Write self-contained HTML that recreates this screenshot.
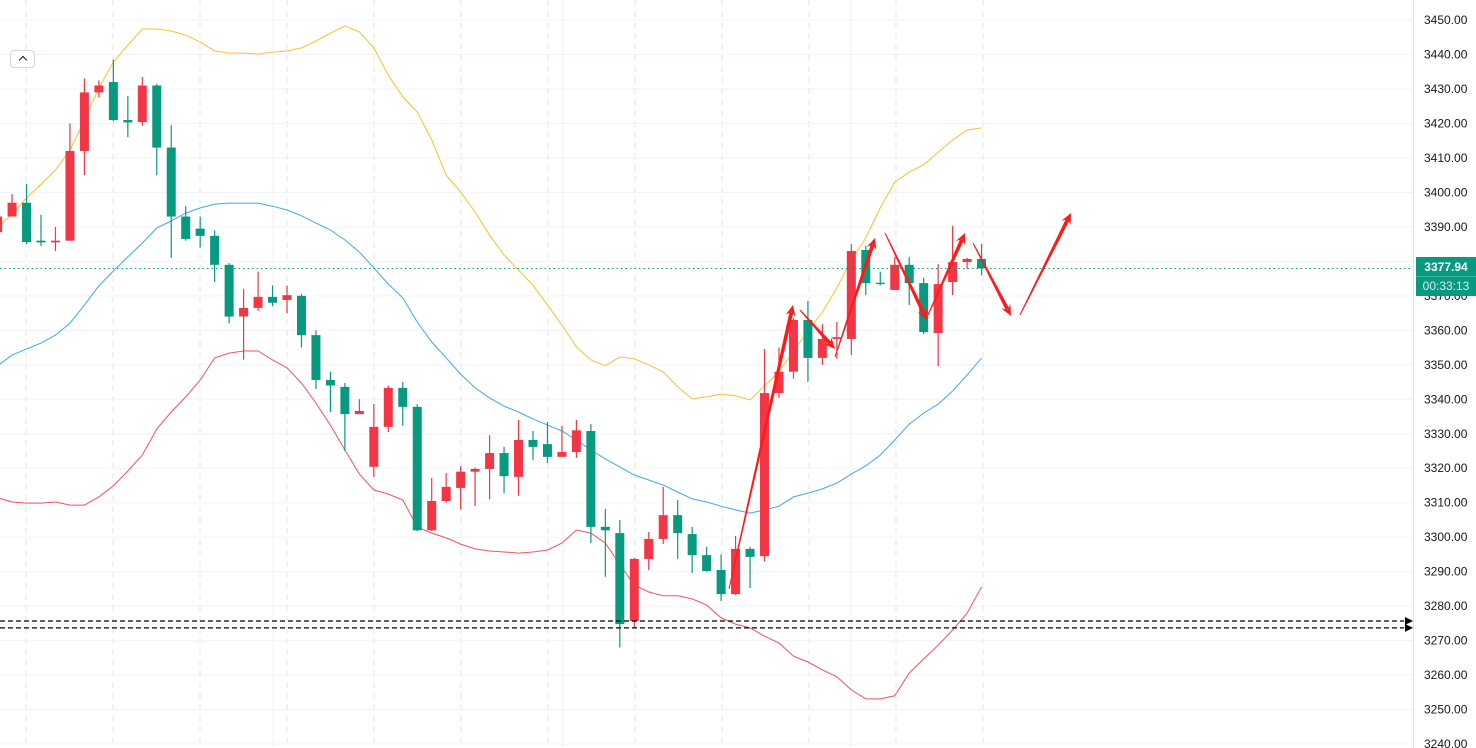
<!DOCTYPE html>
<html><head><meta charset="utf-8">
<style>
html,body{margin:0;padding:0;background:#fff;}
body{width:1476px;height:748px;overflow:hidden;position:relative;font-family:"Liberation Sans",sans-serif;}
svg{position:absolute;left:0;top:0;}
.btn{position:absolute;left:10px;top:50px;width:25px;height:18px;border:1px solid #d1d4dc;border-radius:4px;background:#fff;box-sizing:border-box;}
.btn:after{content:"";position:absolute;left:9px;top:6px;width:5px;height:5px;border-left:1.6px solid #131722;border-top:1.6px solid #131722;transform:rotate(45deg);}
.plabel{position:absolute;left:1416px;top:257px;width:60px;height:39px;background:#089981;color:#fff;font-size:12px;text-align:center;}
.plabel .p{height:19px;line-height:20px;font-weight:bold;border-bottom:1px solid #3bb39c;}
.plabel .t{height:19px;line-height:19px;color:#d6f0ea;}
</style></head><body>
<svg id="chart" width="1476" height="748"></svg>
<div class="btn"></div>
<div class="plabel"><div class="p">3377.94</div><div class="t">00:33:13</div></div>
<script>
const opens=[3388.5,3393,3397,3386,3385.5,3386,3412,3429,3432,3421,3420.4,3431,3413,3393,3389.5,3387.4,3379,3364,3366.5,3369.7,3368.8,3370,3358.6,3345.6,3343.6,3335.7,3320.4,3332,3343.3,3337.8,3302,3310.5,3314.3,3319,3319.8,3324.4,3317.5,3328.2,3327,3323.3,3324.7,3330.8,3303,3301.2,3275.7,3293.7,3299.5,3306.4,3300.9,3294.8,3290.5,3283.5,3296.6,3294.5,3341.8,3348,3363,3352,3357.5,3357.5,3383.3,3373.8,3371.7,3379,3373.7,3359.2,3374,3379.8,3380.7];
const closes=[3393,3397,3385.6,3385.5,3386,3412,3429,3431,3421,3420.3,3431,3413,3393,3386.5,3387.4,3379,3364,3366.5,3369.7,3368,3370.2,3358.6,3345.6,3344,3335.7,3336.6,3332,3343.3,3337.8,3302,3310.5,3314.6,3319,3319.8,3324.4,3317.7,3328.2,3326.2,3323.3,3324.7,3331,3303,3302,3274.8,3293.7,3299.5,3306.4,3301.2,3294.8,3290.2,3283.5,3296.6,3294.3,3341.8,3348,3363,3352,3357.5,3358,3383,3373.7,3373.4,3379,3373.7,3359.5,3373.4,3379.8,3380.7,3377.94];
const highs=[3394,3399.5,3402.5,3393.5,3390,3420,3433,3432.5,3438.5,3428,3433.5,3431.5,3419.5,3396,3393,3389,3379.5,3372,3377,3373,3373,3370.5,3360,3348,3344.7,3340,3338.6,3344,3345,3338.6,3317.2,3318.6,3320.6,3320.2,3329.6,3326.2,3334,3330.8,3333.4,3332.3,3334,3332.8,3308.2,3305,3294,3301.5,3314.6,3310.8,3303,3297.2,3295,3300.4,3297.2,3354.6,3355,3363.5,3368.5,3361.8,3362.4,3385,3384.5,3377,3381.3,3381.3,3375.2,3379.2,3390.3,3381,3385];
const lows=[3386,3393,3385,3384.5,3383,3386,3405,3427.5,3420.7,3416,3419.3,3405,3381,3386,3384,3374,3362,3351.5,3365.6,3367,3365,3355,3343,3336.3,3325,3335.7,3317.5,3330.5,3332.3,3301.8,3301.8,3310,3308,3309,3311,3312.8,3312,3322.4,3321.5,3323.3,3323,3298.3,3288.5,3268,3273.7,3290.5,3298,3293.7,3289.6,3290,3281.5,3283.2,3285.3,3293,3340.4,3346,3345,3350,3351.7,3352.8,3370.2,3373,3371.7,3367.3,3358.9,3349.6,3370.2,3377.8,3376];
const upperBand=[3389.7,3393.7,3398.4,3402.4,3406.5,3412.3,3421,3430.3,3437.8,3442.7,3447.4,3447.4,3446.8,3445.6,3443.6,3441,3440.4,3440.4,3440.1,3440.7,3441,3441.9,3443.9,3446.2,3448.3,3446.5,3441.9,3434,3427.7,3423.3,3415.2,3405,3400.1,3394.3,3387.6,3381.8,3377.5,3373.1,3367.3,3361.5,3355.2,3351.4,3349.7,3352.3,3351.7,3350,3347.9,3343.6,3340.1,3340.7,3341.5,3341,3339.8,3343.9,3347.9,3354,3359.8,3365.3,3372.3,3380.4,3386.8,3395.5,3403,3405.9,3408,3411.7,3415.2,3418.1,3418.7];
const middleBand=[3349.7,3352.8,3354.6,3356.3,3358.6,3362.1,3367.3,3372.9,3377.2,3381.3,3385.3,3389.7,3391.7,3394,3395.5,3396.6,3396.9,3396.9,3396.9,3396,3394.9,3393.2,3391.1,3389.1,3386.2,3382.7,3378.1,3373.4,3369.4,3362.4,3356.6,3352,3347.3,3343.3,3340.4,3338,3336.3,3334.3,3332.5,3330.8,3328.2,3325.3,3322.7,3320.4,3318,3316.6,3315.1,3313.1,3311.1,3310.2,3309,3307.9,3307,3307.9,3309,3311.7,3312.8,3314,3315.7,3318.3,3320.7,3323.8,3328.2,3332.8,3336,3338.6,3342.4,3347,3352];
const lowerBand=[3311.4,3310.2,3309.9,3309.9,3310.2,3309.3,3309.3,3311.7,3314.9,3319.2,3323.8,3331.4,3336.3,3340.7,3345.6,3352,3353.4,3354,3354,3351.4,3349.1,3344.7,3338.9,3332.5,3325.3,3318.3,3313.7,3312.5,3310.8,3303,3301.2,3299.8,3298,3296.6,3296,3295.7,3295.4,3295.7,3296.3,3298.3,3302.1,3301.2,3298.3,3292.1,3286.1,3284.1,3283,3283,3282.1,3280.3,3276.6,3274.8,3273.7,3271.3,3269.3,3265.5,3263.8,3261.5,3259.5,3255.7,3253.1,3253.1,3254,3260.6,3264.7,3268.7,3273.1,3278,3285.6];
const priceTicks=[3450,3440,3430,3420,3410,3400,3390,3380,3370,3360,3350,3340,3330,3320,3310,3300,3290,3280,3270,3260,3250,3240];
const lastPrice=3377.94;
const levels=[3275.7,3273.7];

const NS="http://www.w3.org/2000/svg";
const svg=document.getElementById('chart');
function yS(p){return 20+(3450-p)*3.448;}
function xS(i){return -2.4+i*14.47;}
function mk(tag,attrs,parent){const e=document.createElementNS(NS,tag);for(const k in attrs)e.setAttribute(k,attrs[k]);(parent||svg).appendChild(e);return e;}

// grid
const grid=mk('g',{});


priceTicks.forEach(p=>{mk('line',{x1:0,x2:1413,y1:yS(p),y2:yS(p),stroke:'#f0f3fa','stroke-width':1},grid);});
for(let x=26;x<=990;x+=87){mk('line',{x1:x,x2:x,y1:0,y2:748,stroke:'#eceef2','stroke-width':1.5,'stroke-dasharray':'6,5'},grid);}
[273,563,851].forEach(x=>mk('line',{x1:x,x2:x,y1:0,y2:748,stroke:'#f0f1f6','stroke-width':1},grid));

// bands
function band(arr,color,name){
  const pts=arr.map((v,i)=>xS(i).toFixed(1)+','+yS(v).toFixed(1)).join(' ');
  const l=mk('polyline',{points:pts,fill:'none',stroke:color,'stroke-width':1});
  
  
}
band(upperBand,'#fbc02d','upper-band');
band(middleBand,'#42a5f5','middle-band');
band(lowerBand,'#f7525f','lower-band');

// candles
opens.forEach((o,i)=>{
  const c=closes[i],up=c>=o,col=up?'#f23645':'#089981',x=xS(i);
  const g=mk('g',{});
  
  
  mk('line',{x1:x,x2:x,y1:yS(highs[i]),y2:yS(lows[i]),stroke:col,'stroke-width':1.2},g);
  const t=yS(Math.max(o,c)),b=yS(Math.min(o,c));
  mk('rect',{x:x-4.5,y:t,width:9,height:Math.max(1.2,b-t),fill:col},g);
});

// last price line
const lp=mk('line',{x1:0,x2:1413,y1:yS(lastPrice),y2:yS(lastPrice),stroke:'#089981','stroke-width':1,'stroke-dasharray':'1.5,3'});



// horizontal levels
levels.forEach(p=>{
  const g=mk('g',{});
  
  
  mk('line',{x1:0,x2:1404,y1:yS(p),y2:yS(p),stroke:'#000','stroke-width':1.2,'stroke-dasharray':'5,3'},g);
  const y=yS(p);
  mk('polygon',{points:`1405,${y-4} 1413,${y} 1405,${y+4}`,fill:'#000'},g);
});

// annotation arrows
const arrows=[[729,589,793,305],[800,310,835,349],[835,357,875,238],[885,233,927,320],[928,315,965,233],[973,243,1011,316],[1020,315,1071,213]];
arrows.forEach(a=>{
  const g=mk('g',{});
  
  
  const [x1,y1,x2,y2]=a,dx=x2-x1,dy=y2-y1,L=Math.hypot(dx,dy),ux=dx/L,uy=dy/L,px=-uy,py=ux;
  mk('polygon',{points:`${x1},${y1} ${x2-ux*8+px*1.4},${y2-uy*8+py*1.4} ${x2-ux*8-px*1.4},${y2-uy*8-py*1.4}`,fill:'#ff1a1a',stroke:'#ff1a1a','stroke-width':1},g);
  mk('polygon',{points:`${x2},${y2} ${x2-ux*11+px*5},${y2-uy*11+py*5} ${x2-ux*7},${y2-uy*7} ${x2-ux*11-px*5},${y2-uy*11-py*5}`,fill:'#ff1a1a'},g);
});

// price axis
const ax=mk('g',{});


mk('rect',{x:1413,y:0,width:63,height:748,fill:'#fff'},ax);
mk('line',{x1:1413.5,x2:1413.5,y1:0,y2:748,stroke:'#e0e3eb','stroke-width':1},ax);
priceTicks.forEach(p=>{
  const t=mk('text',{x:1424,y:yS(p)+4,'font-size':'12','font-family':'Liberation Sans, sans-serif',fill:'#131722'},ax);
  t.textContent=p.toFixed(2);
  
  
});
</script>
</body></html>
